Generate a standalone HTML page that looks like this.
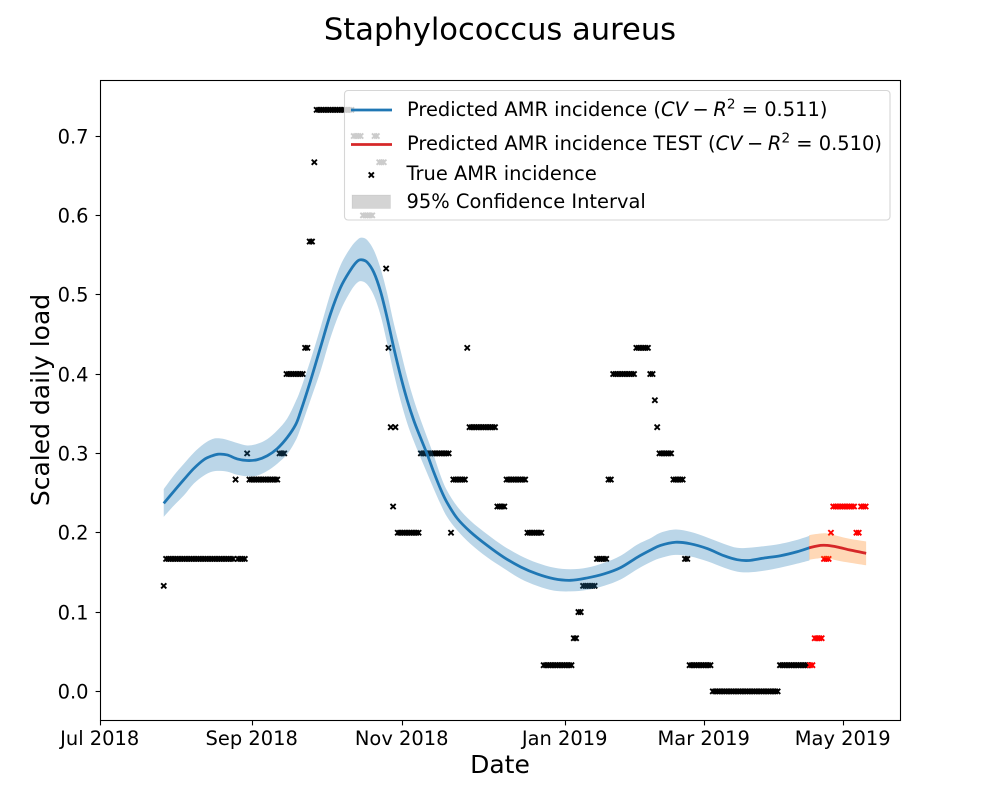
<!DOCTYPE html>
<html>
<head>
<meta charset="utf-8">
<title>Staphylococcus aureus</title>
<style>
html,body{margin:0;padding:0;background:#fff;}
svg{display:block;font-family:"DejaVu Sans","Liberation Sans",sans-serif;}
</style>
</head>
<body>
<svg id="chart" xmlns="http://www.w3.org/2000/svg" width="1000" height="800" viewBox="0 0 1000 800">
<rect width="1000" height="800" fill="#fff"/>
<text x="500" y="39.5" text-anchor="middle" font-size="30.56" fill="#000">Staphylococcus aureus</text>
<g id="marks-true"></g>
<g id="bands"></g>
<g id="lines"></g>
<g id="axes"></g>
<text x="500" y="773" text-anchor="middle" font-size="25" fill="#000">Date</text>
<text transform="translate(49,400) rotate(-90)" text-anchor="middle" font-size="25" fill="#000">Scaled daily load</text>
<g>
<rect x="344.5" y="90.5" width="545.5" height="129.5" rx="3.5" ry="3.5" fill="#fff" fill-opacity="0.8" stroke="#ccc" stroke-opacity="0.8" stroke-width="1.1"/>
<line x1="351" y1="110" x2="392" y2="110" stroke="#1f77b4" stroke-width="2.8"/>
<text x="407" y="116" font-size="19.44" fill="#000" xml:space="preserve">Predicted AMR incidence (<tspan font-style="italic">CV</tspan><tspan dx="4.6">−</tspan><tspan dx="4.6" font-style="italic">R</tspan><tspan font-size="13.6" dy="-7.5">2</tspan><tspan dy="7.5"> = 0.511)</tspan></text>
<line x1="351" y1="144.5" x2="392" y2="144.5" stroke="#d62728" stroke-width="2.8"/>
<text x="407" y="150" font-size="19.44" fill="#000" xml:space="preserve">Predicted AMR incidence TEST (<tspan font-style="italic">CV</tspan><tspan dx="4.6">−</tspan><tspan dx="4.6" font-style="italic">R</tspan><tspan font-size="13.6" dy="-7.5">2</tspan><tspan dy="7.5"> = 0.510)</tspan></text>
<path d="M368.7 172.4L373.9 177.6M368.7 177.6L373.9 172.4" stroke="#000" stroke-width="1.9" fill="none"/>
<text x="406.5" y="180" font-size="19.44" fill="#000">True AMR incidence</text>
<rect x="352" y="195" width="38.5" height="13.5" fill="#000" fill-opacity="0.17" stroke="#000" stroke-opacity="0.05"/>
<text x="406.5" y="208" font-size="19.44" fill="#000">95% Confidence Interval</text>
</g>
</svg>
<script>
// ---- chart data -------------------------------------------------
const xTickDays = [0, 65.4, 130.5, 200.8, 260.8, 320.6];
const xTickLabels = ["Jul 2018", "Sep 2018", "Nov 2018", "Jan 2019", "Mar 2019", "May 2019"];
const yTickValues = [0, 0.1, 0.2, 0.3, 0.4, 0.5, 0.6, 0.7];
const yTickLabels = ["0.0", "0.1", "0.2", "0.3", "0.4", "0.5", "0.6", "0.7"];
const trainStartDay = 27.3;
const trainValues = [
 .133,
 .167,.167,.167,.167,.167,.167,.167,.167,.167,.167,.167,.167,.167,.167,.167,
 .167,.167,.167,.167,.167,.167,.167,.167,.167,.167,.167,.167,.167,.167,.167,
 .267,
 .167,.167,.167,.167,
 .3,
 .267,.267,.267,.267,.267,.267,.267,.267,.267,.267,.267,.267,.267,
 .3,.3,.3,
 .4,.4,.4,.4,.4,.4,.4,.4,
 .433,.433,
 .567,.567,
 .667,
 .733,.733,.733,.733,.733,.733,.733,.733,.733,.733,.733,.733,.733,.733,.733,.733,
 .7,.7,.7,.7,
 .6,.6,.6,.6,.6,
 .7,.7,
 .667,.667,.667,
 .533,
 .433,
 .333,
 .233,
 .333,
 .2,.2,.2,.2,.2,.2,.2,.2,.2,.2,
 .3,.3,.3,.3,.3,.3,.3,.3,.3,.3,.3,.3,.3,
 .2,
 .267,.267,.267,.267,.267,.267,
 .433,
 .333,.333,.333,.333,.333,.333,.333,.333,.333,.333,.333,.333,
 .233,.233,.233,.233,
 .267,.267,.267,.267,.267,.267,.267,.267,.267,
 .2,.2,.2,.2,.2,.2,.2,
 .033,.033,.033,.033,.033,.033,.033,.033,.033,.033,.033,.033,.033,
 .067,.067,
 .1,.1,
 .133,.133,.133,.133,.133,.133,
 .167,.167,.167,.167,.167,
 .267,.267,
 .4,.4,.4,.4,.4,.4,.4,.4,.4,.4,
 .433,.433,.433,.433,.433,.433,
 .4,.4,
 .367,
 .333,
 .3,.3,.3,.3,.3,.3,
 .267,.267,.267,.267,.267,
 .167,.167,
 .033,.033,.033,.033,.033,.033,.033,.033,.033,.033,
 0,0,0,0,0,0,0,0,0,0,0,0,0,0,0,0,0,0,0,0,0,0,0,0,0,0,0,0,0,
 .033,.033,.033,.033,.033,.033,.033,.033,.033,.033,.033,.033,.033
];
const testStartDay = 306.3;
const testValues = [
 .033,.033,
 .067,.067,.067,.067,
 .167,.167,.167,
 .2,
 .233,.233,.233,.233,.233,.233,.233,.233,.233,.233,
 .2,.2,
 .233,.233,.233
];
const predDays = [27.3,31.6,36.0,40.3,44.6,48.2,51.1,54.7,59.0,63.3,67.6,72.0,76.3,80.6,84.2,86.3,90.6,95.0,99.3,103.6,107.9,110.8,112.7,115.1,118.0,120.9,123.8,126.6,129.5,132.4,135.3,138.1,141.0,143.9,146.8,149.6,154.0,159.7,166.9,174.1,181.3,188.5,195.7,202.9,210.1,217.3,224.5,231.7,237.4,241.7,248.2,254.7,261.9,269.1,274.8,279.8,286.3,293.5,300.7,306.0];
const predMean = [.237,.252,.267,.281,.292,.297,.299,.298,.293,.291,.292,.297,.306,.320,.336,.352,.391,.434,.476,.509,.531,.542,.544,.541,.528,.504,.470,.433,.398,.367,.341,.320,.299,.276,.255,.238,.218,.201,.184,.169,.157,.148,.142,.140,.143,.148,.156,.169,.178,.184,.188,.186,.180,.171,.166,.165,.168,.171,.176,.181];
const predUpper = [.255,.272,.287,.301,.312,.318,.319,.317,.313,.310,.312,.318,.329,.344,.365,.380,.417,.459,.502,.537,.559,.569,.572,.569,.556,.533,.501,.464,.430,.396,.367,.343,.320,.297,.272,.253,.233,.215,.198,.183,.171,.162,.156,.154,.156,.162,.171,.185,.193,.200,.204,.201,.194,.186,.181,.181,.183,.186,.191,.196];
const predLower = [.220,.234,.247,.262,.272,.277,.278,.277,.273,.271,.272,.278,.287,.299,.316,.331,.367,.404,.446,.480,.504,.515,.517,.513,.499,.474,.438,.401,.367,.338,.315,.295,.275,.255,.236,.220,.203,.186,.169,.155,.142,.133,.127,.126,.128,.133,.141,.154,.163,.168,.172,.170,.164,.156,.151,.150,.152,.156,.161,.165];
const testPredDays = [305.9,310.8,313.7,318.0,323.8,330.5];
const testPredMean = [.181,.184,.184,.182,.178,.174];
const testPredUpper = [.197,.199,.199,.196,.192,.189];
const testPredLower = [.166,.168,.168,.165,.162,.159];

// ---- axis functions ---------------------------------------------
const plotLeft = 100.5, plotRight = 900.5, plotTop = 80.5, plotBottom = 720.5;
const xDomain = [0, 345.33];
const yDomain = [-0.0367, 0.77];
function xScale(d) { return plotLeft + (d - xDomain[0]) / (xDomain[1] - xDomain[0]) * (plotRight - plotLeft); }
function yScale(v) { return plotBottom - (v - yDomain[0]) / (yDomain[1] - yDomain[0]) * (plotBottom - plotTop); }

const NS = "http://www.w3.org/2000/svg";
function make(tag, parent) {
  const el = document.createElementNS(NS, tag);
  document.getElementById(parent).appendChild(el);
  return el;
}
function smoothSegments(pts, startWithMove) {
  let d = (startWithMove ? "M" : "L") + pts[0][0].toFixed(2) + " " + pts[0][1].toFixed(2);
  for (let i = 0; i < pts.length - 1; i++) {
    const p0 = pts[Math.max(i - 1, 0)], p1 = pts[i], p2 = pts[i + 1], p3 = pts[Math.min(i + 2, pts.length - 1)];
    const c1x = p1[0] + (p2[0] - p0[0]) / 6, c1y = p1[1] + (p2[1] - p0[1]) / 6;
    const c2x = p2[0] - (p3[0] - p1[0]) / 6, c2y = p2[1] - (p3[1] - p1[1]) / 6;
    d += "C" + c1x.toFixed(2) + " " + c1y.toFixed(2) + " " + c2x.toFixed(2) + " " + c2y.toFixed(2) + " " + p2[0].toFixed(2) + " " + p2[1].toFixed(2);
  }
  return d;
}
function toPts(days, vals) { return days.map(function (d, i) { return [xScale(d), yScale(vals[i])]; }); }
function bandPath(days, up, lo) {
  const top = toPts(days, up);
  const bottom = toPts(days, lo).reverse();
  return smoothSegments(top, true) + smoothSegments(bottom, false) + "Z";
}
function xMark(cx, cy) {
  const h = 2.6;
  return "M" + (cx - h).toFixed(2) + " " + (cy - h).toFixed(2) + "L" + (cx + h).toFixed(2) + " " + (cy + h).toFixed(2) +
         "M" + (cx - h).toFixed(2) + " " + (cy + h).toFixed(2) + "L" + (cx + h).toFixed(2) + " " + (cy - h).toFixed(2);
}

// ---- true incidence markers -------------------------------------
trainValues.forEach(function (v, i) {
  const el = make("path", "marks-true");
  
  
  el.setAttribute("d", xMark(xScale(trainStartDay + i), yScale(v)));
  el.setAttribute("stroke", "#000");
  el.setAttribute("stroke-width", "1.9");
  el.setAttribute("fill", "none");
});
testValues.forEach(function (v, i) {
  const el = make("path", "marks-true");
  
  
  el.setAttribute("d", xMark(xScale(testStartDay + i), yScale(v)));
  el.setAttribute("stroke", "#ff0000");
  el.setAttribute("stroke-width", "1.9");
  el.setAttribute("fill", "none");
});

// ---- confidence bands -------------------------------------------
const trainBand = make("path", "bands");


trainBand.setAttribute("d", bandPath(predDays, predUpper, predLower));
trainBand.setAttribute("fill", "#1f77b4");
trainBand.setAttribute("fill-opacity", "0.3");

const testBand = make("path", "bands");


testBand.setAttribute("d", bandPath(testPredDays, testPredUpper, testPredLower));
testBand.setAttribute("fill", "#ff7f0e");
testBand.setAttribute("fill-opacity", "0.3");

// ---- prediction lines -------------------------------------------
const trainLine = make("path", "lines");


trainLine.setAttribute("d", smoothSegments(toPts(predDays, predMean), true));
trainLine.setAttribute("fill", "none");
trainLine.setAttribute("stroke", "#1f77b4");
trainLine.setAttribute("stroke-width", "2.78");

const testLine = make("path", "lines");


testLine.setAttribute("d", smoothSegments(toPts(testPredDays, testPredMean), true));
testLine.setAttribute("fill", "none");
testLine.setAttribute("stroke", "#d62728");
testLine.setAttribute("stroke-width", "2.78");

// ---- axes -------------------------------------------------------
const spine = make("rect", "axes");


spine.setAttribute("x", plotLeft);
spine.setAttribute("y", plotTop);
spine.setAttribute("width", plotRight - plotLeft);
spine.setAttribute("height", plotBottom - plotTop);
spine.setAttribute("fill", "none");
spine.setAttribute("stroke", "#000");
spine.setAttribute("stroke-width", "1.1");

xTickDays.forEach(function (d, i) {
  const x = Math.round(xScale(d) - 0.5) + 0.5;
  const t = make("line", "axes");
  
  
  t.setAttribute("x1", x);
  t.setAttribute("x2", x);
  t.setAttribute("y1", plotBottom);
  t.setAttribute("y2", plotBottom + 4.9);
  t.setAttribute("stroke", "#000");
  t.setAttribute("stroke-width", "1.1");
  const l = make("text", "axes");
  
  
  l.setAttribute("x", x - 0.8);
  l.setAttribute("y", 745);
  l.setAttribute("text-anchor", "middle");
  l.setAttribute("font-size", "19.44");
  l.textContent = xTickLabels[i];
});
yTickValues.forEach(function (v, i) {
  const y = Math.round(yScale(v) - 0.5) + 0.5;
  const t = make("line", "axes");
  
  
  t.setAttribute("x1", plotLeft);
  t.setAttribute("x2", plotLeft - 4.9);
  t.setAttribute("y1", y);
  t.setAttribute("y2", y);
  t.setAttribute("stroke", "#000");
  t.setAttribute("stroke-width", "1.1");
  const l = make("text", "axes");
  
  
  l.setAttribute("x", 88.5);
  l.setAttribute("y", y + 7);
  l.setAttribute("text-anchor", "end");
  l.setAttribute("font-size", "19.44");
  l.textContent = yTickLabels[i];
});
</script>
</body>
</html>
